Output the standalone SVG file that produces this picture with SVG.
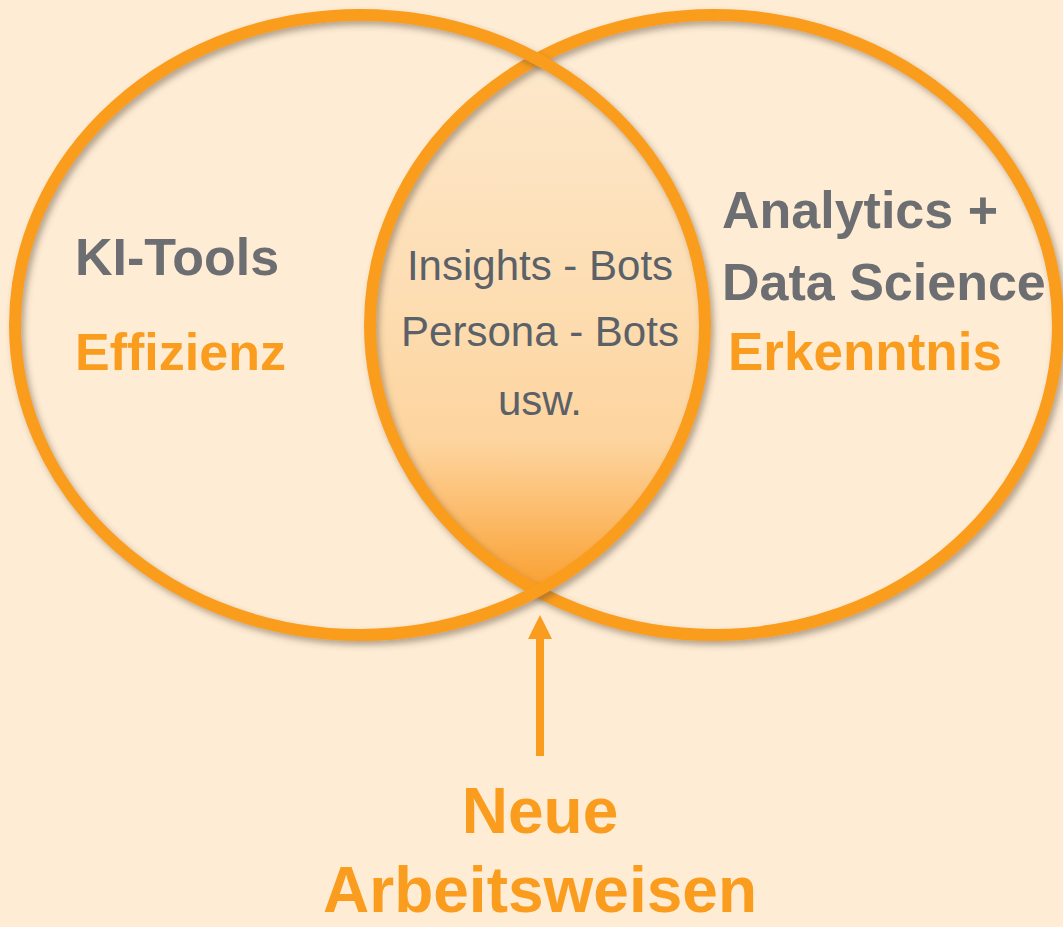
<svg xmlns="http://www.w3.org/2000/svg" width="1063" height="927" viewBox="0 0 1063 927">
  <defs>
    <linearGradient id="lensGrad" gradientUnits="userSpaceOnUse" x1="0" y1="62" x2="0" y2="592">
      <stop offset="0" stop-color="#FDE8CB"/>
      <stop offset="0.45" stop-color="#FDDDB2"/>
      <stop offset="0.72" stop-color="#FDD49E"/>
      <stop offset="0.85" stop-color="#FCBC6C"/>
      <stop offset="1" stop-color="#F99F2E"/>
    </linearGradient>
    <clipPath id="rightClip">
      <ellipse cx="714" cy="325" rx="344" ry="310"/>
    </clipPath>
    <filter id="shadow" x="-10%" y="-10%" width="120%" height="120%">
      <feDropShadow dx="3" dy="4" stdDeviation="3" flood-color="#5a4a3a" flood-opacity="0.45"/>
    </filter>
  </defs>
  <style>
    .ring { fill: none; stroke: #FA9D1F; stroke-width: 12; }
    .bold { font-family: "Liberation Sans", Arial, sans-serif; font-weight: bold; }
    .reg { font-family: "Liberation Sans", Arial, sans-serif; font-weight: normal; }
    .grey { fill: #6D6E71; }
    .orange { fill: #FA9D1F; }
    .mid { fill: #5B6168; }
  </style>
  <rect width="1063" height="927" fill="#FEECD4"/>

  <g id="intersection">
    <ellipse cx="360" cy="325" rx="345" ry="310" fill="url(#lensGrad)" clip-path="url(#rightClip)"/>
  </g>

  <g id="right-circle">
    <ellipse class="ring" cx="714" cy="325" rx="344" ry="310" filter="url(#shadow)"/>
  </g>
  <g id="left-circle">
    <ellipse class="ring" cx="360" cy="325" rx="345" ry="310" filter="url(#shadow)"/>
  </g>

  <g id="left-label">
    <text class="bold grey" x="75" y="275" font-size="52">KI-Tools</text>
    <text class="bold orange" x="75" y="370" font-size="52">Effizienz</text>
  </g>

  <g id="right-label">
    <text class="bold grey" x="722" y="228" font-size="52">Analytics +</text>
    <text class="bold grey" x="722" y="300" font-size="52">Data Science</text>
    <text class="bold orange" x="728" y="370" font-size="53">Erkenntnis</text>
  </g>

  <g id="middle-label">
    <text class="reg mid" x="540" y="280" font-size="42" text-anchor="middle">Insights - Bots</text>
    <text class="reg mid" x="540" y="346" font-size="42" text-anchor="middle">Persona - Bots</text>
    <text class="reg mid" x="540" y="415" font-size="42" text-anchor="middle">usw.</text>
  </g>

  <g id="connectors">
    <rect x="536" y="636" width="8" height="120" fill="#FA9D1F"/>
    <polygon points="540,615 552,639 528,639" fill="#FA9D1F"/>
  </g>

  <g id="bottom-label">
    <text class="bold orange" x="540" y="833" font-size="64" text-anchor="middle">Neue</text>
    <text class="bold orange" x="540" y="912" font-size="64" text-anchor="middle">Arbeitsweisen</text>
  </g>
</svg>
